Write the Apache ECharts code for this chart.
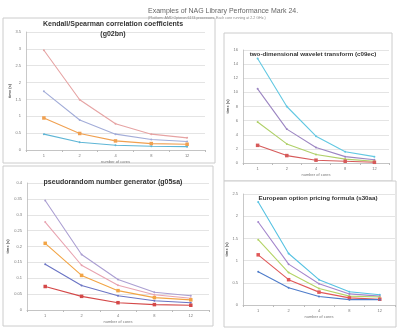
<!DOCTYPE html>
<html><head><meta charset="utf-8">
<script src="https://cdn.jsdelivr.net/npm/echarts@6/dist/echarts.min.js"></script>
<style>html,body{margin:0;padding:0;background:#fff}#c{width:400px;height:329px}</style>
</head><body><div id="c"></div>
<script>
const cores = ['1', '2', '4', '8', '12'];

// Chart 1: Kendall/Spearman correlation coefficients (g02bn)
const g02bnPink   = [2.96, 1.49, 0.78, 0.47, 0.36];
const g02bnBlue   = [1.74, 0.89, 0.47, 0.31, 0.25];
const g02bnOrange = [0.95, 0.49, 0.27, 0.19, 0.17];
const g02bnCyan   = [0.47, 0.23, 0.14, 0.11, 0.10];

// Chart 2: two-dimensional wavelet transform (c09ec)
const c09ecCyan   = [14.8, 8.0, 3.8, 1.6, 0.9];
const c09ecPurple = [10.5, 4.8, 2.2, 0.9, 0.45];
const c09ecGreen  = [5.8, 2.7, 1.2, 0.55, 0.25];
const c09ecRed    = [2.5, 1.05, 0.4, 0.25, 0.1];

// Chart 3: pseudorandom number generator (g05sa)
const g05saPurple = [0.345, 0.175, 0.096, 0.056, 0.045];
const g05saPink   = [0.277, 0.141, 0.078, 0.048, 0.037];
const g05saOrange = [0.21, 0.109, 0.061, 0.039, 0.032];
const g05saIndigo = [0.144, 0.077, 0.045, 0.029, 0.023];
const g05saRed    = [0.074, 0.043, 0.023, 0.017, 0.015];

// Chart 4: European option pricing formula (s30aa)
const s30aaCyan   = [2.32, 1.16, 0.57, 0.30, 0.23];
const s30aaPurple = [1.87, 0.92, 0.48, 0.25, 0.20];
const s30aaGreen  = [1.47, 0.73, 0.37, 0.20, 0.18];
const s30aaRed    = [1.13, 0.57, 0.29, 0.16, 0.13];
const s30aaBlue   = [0.75, 0.39, 0.19, 0.12, 0.12];

const yMax = [3.5, 16, 0.4, 2.5];
const yStep = [0.5, 2, 0.05, 0.5];

const chart = echarts.init(document.getElementById('c'), null, {renderer: 'canvas'});
const FONT = 'Liberation Sans, Arial, sans-serif';

const grids = [
  {left: 26, top: 32, width: 179, height: 118},
  {left: 243, top: 50, width: 146, height: 113},
  {left: 27, top: 183, width: 182, height: 127},
  {left: 243, top: 194, width: 152, height: 111}
];

function xAx(i) {
  return {
    type: 'category', gridIndex: i, data: cores,
    axisLine: {lineStyle: {color: '#bbb', width: 0.8}},
    axisTick: {show: true, lineStyle: {color: '#bbb'}, length: 2},
    axisLabel: {fontSize: 4, color: '#777', margin: 4, fontFamily: FONT},
    name: 'number of cores', nameLocation: 'middle', nameGap: 10,
    nameTextStyle: {fontSize: 4, color: '#777', fontFamily: FONT}
  };
}
function yAx(i) {
  return {
    type: 'value', gridIndex: i, min: 0, max: yMax[i], interval: yStep[i],
    axisLine: {show: true, lineStyle: {color: '#bbb', width: 0.8}},
    axisTick: {show: false},
    splitLine: {lineStyle: {color: '#ddd', width: 0.8}},
    axisLabel: {fontSize: 4, color: '#777', margin: 5, fontFamily: FONT},
    name: 'time (s)', nameLocation: 'middle', nameGap: i === 1 ? 8 : 12,
    nameTextStyle: {fontSize: 4, color: '#555', fontWeight: 'bold', fontFamily: FONT}
  };
}
function s(i, data, color, marker) {
  return {
    type: 'line', xAxisIndex: i, yAxisIndex: i, data: data,
    lineStyle: {color: color, width: 1.1},
    itemStyle: {color: color},
    symbol: marker || 'circle', symbolSize: marker === 'rect' ? 3.5 : 2,
    showSymbol: true, silent: true, animation: false
  };
}

const option = {
  animation: false,
  backgroundColor: '#fff',
  graphic: [
    {type: 'rect', shape: {x: 3, y: 18, width: 212, height: 145}, style: {fill: '#fff', stroke: '#ccc', lineWidth: 1}, z: -10},
    {type: 'rect', shape: {x: 224, y: 33, width: 168, height: 148}, style: {fill: '#fff', stroke: '#ccc', lineWidth: 1}, z: -10},
    {type: 'rect', shape: {x: 3, y: 166, width: 210, height: 160}, style: {fill: '#fff', stroke: '#ccc', lineWidth: 1}, z: -10},
    {type: 'rect', shape: {x: 224, y: 181, width: 172, height: 146}, style: {fill: '#fff', stroke: '#ccc', lineWidth: 1}, z: -10}
  ],
  title: [
    {text: 'Examples of NAG Library Performance Mark 24.', left: 143, top: 3,
     textStyle: {fontSize: 7, color: '#666', fontWeight: 'normal', fontFamily: FONT},
     subtext: '(Platform: AMD Opteron 6174 processors. Each core running at 2.2 GHz.)', itemGap: 1,
     subtextStyle: {fontSize: 3.6, color: '#888', fontFamily: FONT}},
    {text: 'Kendall/Spearman correlation coefficients\n(g02bn)', left: 108, top: 14, textAlign: 'center',
     textStyle: {fontSize: 7, color: '#333', fontWeight: 'bold', fontFamily: FONT, lineHeight: 10}},
    {text: 'two-dimensional wavelet transform (c09ec)', left: 308, top: 46, textAlign: 'center',
     textStyle: {fontSize: 6.2, color: '#333', fontWeight: 'bold', fontFamily: FONT}},
    {text: 'pseudorandom number generator (g05sa)', left: 108, top: 174, textAlign: 'center',
     textStyle: {fontSize: 7, color: '#333', fontWeight: 'bold', fontFamily: FONT}},
    {text: 'European option pricing formula (s30aa)', left: 313, top: 190, textAlign: 'center',
     textStyle: {fontSize: 6.2, color: '#333', fontWeight: 'bold', fontFamily: FONT}}
  ],
  grid: grids,
  xAxis: [xAx(0), xAx(1), xAx(2), xAx(3)],
  yAxis: [yAx(0), yAx(1), yAx(2), yAx(3)],
  series: [
    s(0, g02bnPink, '#e6a3a3'),
    s(0, g02bnBlue, '#a2acd8'),
    s(0, g02bnOrange, '#f0a050', 'rect'),
    s(0, g02bnCyan, '#5fb6d6'),

    s(1, c09ecCyan, '#62c8e2'),
    s(1, c09ecPurple, '#9c86c2'),
    s(1, c09ecGreen, '#afd068'),
    s(1, c09ecRed, '#d65a5a', 'rect'),

    s(2, g05saPurple, '#ab9fd2'),
    s(2, g05saPink, '#e8a3b0'),
    s(2, g05saOrange, '#f2a444', 'rect'),
    s(2, g05saIndigo, '#6a74c4'),
    s(2, g05saRed, '#d44848', 'rect'),

    s(3, s30aaCyan, '#56c2e2'),
    s(3, s30aaPurple, '#a486cc'),
    s(3, s30aaGreen, '#b4d466'),
    s(3, s30aaRed, '#e05858', 'rect'),
    s(3, s30aaBlue, '#4e7cca')
  ]
};
chart.setOption(option);
</script>
</body></html>
